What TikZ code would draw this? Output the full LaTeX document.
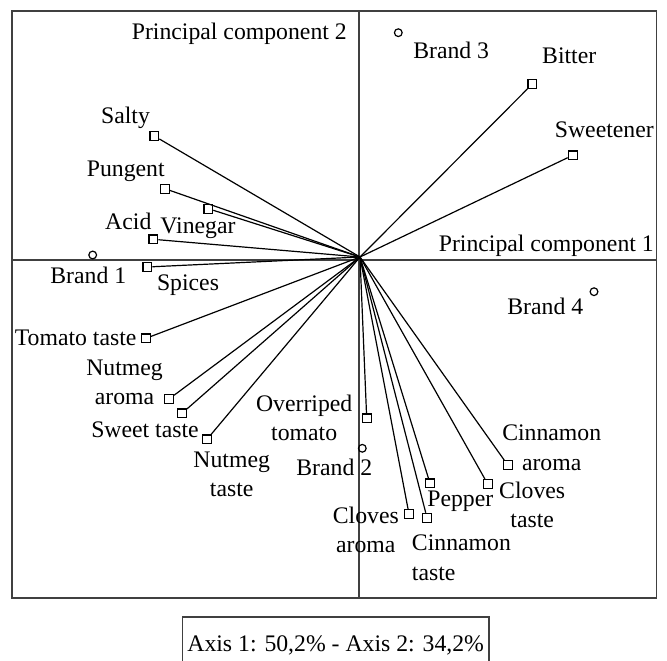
\documentclass[tikz,border=0pt]{standalone}
\usepackage{fontspec}
\setmainfont{Liberation Serif}
\usepackage{tikz}

\begin{document}
\begin{tikzpicture}[x=0.75pt,y=0.75pt,yscale=-1,xscale=1,
  attr/.style={draw,rectangle,minimum size=6.6pt,inner sep=0pt,line width=0.9pt},
  brand/.style={draw,circle,minimum size=5.8pt,inner sep=0pt,line width=0.9pt},
  lbl/.style={inner sep=0pt,font=\fontsize{17.8}{21.8}\selectfont},
  ray/.style={line width=0.9pt},
  frm/.style={line width=0.9pt,draw=black!75}]
\useasboundingbox (0,0) rectangle (667,660);

%Shape: Frame
\draw [frm] (12,11) rectangle (656.5,598);
%Shape: Axis 1
\draw [frm] (12,260) -- (656.5,260);
%Shape: Axis 2
\draw [frm] (359,11) -- (359,598);

\coordinate (o) at (360,257);

%Shape: Attribute points
\draw (154.3,136) node [attr] (salty) {};
\draw (165,188.7) node [attr] (pungent) {};
\draw (208.3,208.7) node [attr] (vinegar) {};
\draw (153.3,239.3) node [attr] (acid) {};
\draw (147.3,267) node [attr] (spices) {};
\draw (146,338.3) node [attr] (tomtaste) {};
\draw (169,399) node [attr] (nutaroma) {};
\draw (182,413.3) node [attr] (swtaste) {};
\draw (207,439.3) node [attr] (nuttaste) {};
\draw (366.7,418.3) node [attr] (overtom) {};
\draw (409,514) node [attr] (cloaroma) {};
\draw (427,517.7) node [attr] (cintaste) {};
\draw (430,483.3) node [attr] (pepper) {};
\draw (487.7,484) node [attr] (clotaste) {};
\draw (507.7,465) node [attr] (cinaroma) {};
\draw (572.7,155.3) node [attr] (sweetener) {};
\draw (532.3,84) node [attr] (bitter) {};

%Shape: Brand points
\draw (92.7,255) node [brand] (b1) {};
\draw (362.3,448.3) node [brand] (b2) {};
\draw (398.3,32.7) node [brand] (b3) {};
\draw (594,291.7) node [brand] (b4) {};

%Straight Lines
\draw [ray] (o) -- (salty);
\draw [ray] (o) -- (pungent);
\draw [ray] (o) -- (vinegar);
\draw [ray] (o) -- (acid);
\draw [ray] (o) -- (spices);
\draw [ray] (o) -- (tomtaste);
\draw [ray] (o) -- (nutaroma);
\draw [ray] (o) -- (swtaste);
\draw [ray] (o) -- (nuttaste);
\draw [ray] (o) -- (overtom);
\draw [ray] (o) -- (cloaroma);
\draw [ray] (o) -- (cintaste);
\draw [ray] (o) -- (pepper);
\draw [ray] (o) -- (clotaste);
\draw [ray] (o) -- (cinaroma);
\draw [ray] (o) -- (sweetener);
\draw [ray] (o) -- (bitter);

% Text Node
\draw (347,40) node [lbl,anchor=base east] (pc2) {Principal component 2};
% Text Node
\draw (654,251.7) node [lbl,anchor=base east] (pc1) {Principal component 1};
% Text Node
\draw (125.5,123.3) node [lbl,anchor=base] (lsalty) {Salty};
% Text Node
\draw (125.8,176.7) node [lbl,anchor=base] (lpungent) {Pungent};
% Text Node
\draw (128.3,229.3) node [lbl,anchor=base] (lacid) {Acid};
% Text Node
\draw (198,233.3) node [lbl,anchor=base] (lvinegar) {Vinegar};
% Text Node
\draw (88.3,283.3) node [lbl,anchor=base] (lb1) {Brand 1};
% Text Node
\draw (188,290.7) node [lbl,anchor=base] (lspices) {Spices};
% Text Node
\draw (451.2,58.3) node [lbl,anchor=base] (lb3) {Brand 3};
% Text Node
\draw (569.2,64) node [lbl,anchor=base] (lbitter) {Bitter};
% Text Node
\draw (654,137.3) node [lbl,anchor=base east] (lsweetener) {Sweetener};
% Text Node
\draw (545.3,314) node [lbl,anchor=base] (lb4) {Brand 4};
% Text Node
\draw (136.7,345) node [lbl,anchor=base east] (ltomtaste) {Tomato taste};
% Text Node
\draw (124.5,360) node [lbl,anchor=north,align=center] (lnutaroma) {Nutmeg\\aroma};
% Text Node
\draw (145,437.3) node [lbl,anchor=base] (lswtaste) {Sweet taste};
% Text Node
\draw (231.7,451.7) node [lbl,anchor=north,align=center] (lnuttaste) {Nutmeg\\taste};
% Text Node
\draw (304.2,395) node [lbl,anchor=north,align=center] (lovertom) {Overriped\\tomato};
% Text Node
\draw (334.3,475.7) node [lbl,anchor=base] (lb2) {Brand 2};
% Text Node
\draw (551.7,425) node [lbl,anchor=north,align=center] (lcinaroma) {Cinnamon\\aroma};
% Text Node
\draw (532.2,481.7) node [lbl,anchor=north,align=center] (lclotaste) {Cloves\\taste};
% Text Node
\draw (460.3,506) node [lbl,anchor=base] (lpepper) {Pepper};
% Text Node
\draw (365.8,506.7) node [lbl,anchor=north,align=center] (lcloaroma) {Cloves\\aroma};
% Text Node
\draw (411.7,535) node [lbl,anchor=north west,align=left] (lcintaste) {Cinnamon\\taste};

% Text Node
\draw (335.7,645) node [lbl,draw,frm,minimum width=230pt,minimum height=42pt] (legend) {Axis 1: 50,2\% - Axis 2: 34,2\%};

\end{tikzpicture}
\end{document}
